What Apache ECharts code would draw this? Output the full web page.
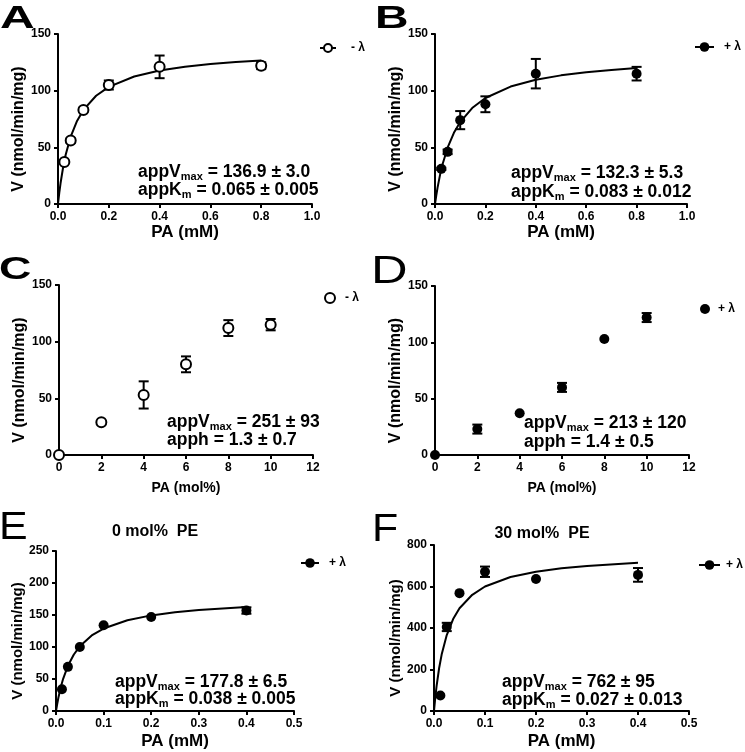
<!DOCTYPE html>
<html>
<head>
<meta charset="utf-8">
<script src="https://cdn.jsdelivr.net/npm/echarts@6/dist/echarts.min.js"></script>
<style>
  html, body { margin: 0; padding: 0; background: #fff; }
  #chart { width: 745px; height: 752px; }
</style>
</head>
<body>
<div id="chart"></div>
<script>
// --- data ---
// A: -lambda, PA in mM
const aX = [0.025, 0.05, 0.1, 0.2, 0.4, 0.8];
const aY = [37, 56, 83, 105, 121, 122];
const aErr = [1, 2, 2, 4, 10, 3];
// B: +lambda, PA in mM
const bX = [0.025, 0.05, 0.1, 0.2, 0.4, 0.8];
const bY = [31, 46, 74, 88, 115, 115];
const bErr = [1, 2, 8, 7, 13, 6];
// fitted curves for A and B
const mmFitX = [0, 0.005, 0.01, 0.02, 0.03, 0.05, 0.075, 0.1, 0.15, 0.2, 0.3, 0.4, 0.5, 0.6, 0.7, 0.8];
const aFitY = [0, 9.8, 18.3, 32.2, 43.2, 59.5, 73.3, 83.0, 95.5, 103.3, 112.5, 117.8, 121.2, 123.5, 125.3, 126.6];
const bFitY = [0, 7.5, 14.2, 25.7, 35.1, 49.7, 62.8, 72.3, 85.2, 93.5, 103.6, 109.6, 113.5, 116.2, 118.3, 119.9];
// C: -lambda, PA in mol%
const cX = [0, 2, 4, 6, 8, 10];
const cY = [0, 29, 53, 80, 112, 115];
const cErr = [0, 0, 12, 7, 7, 5];
// D: +lambda, PA in mol%
const dX = [0, 2, 4, 6, 8, 10];
const dY = [0, 23, 37, 60, 103, 122];
const dErr = [0, 4, 0, 4, 0, 4];
// E: 0 mol% PE
const eX = [0.0125, 0.025, 0.05, 0.1, 0.2, 0.4];
const eY = [34, 69, 100, 134, 147, 157];
const eErr = [0, 0, 0, 0, 0, 5];
// F: 30 mol% PE
const fX = [0.0125, 0.025, 0.05, 0.1, 0.2, 0.4];
const fY = [75, 405, 568, 671, 636, 656];
const fErr = [0, 20, 0, 25, 0, 33];
const peFitX = [0, 0.0025, 0.005, 0.01, 0.015, 0.025, 0.0375, 0.05, 0.075, 0.1, 0.15, 0.2, 0.25, 0.3, 0.4];
const eFitY = [0, 11.0, 20.7, 37.0, 50.3, 70.6, 88.3, 101.0, 118.0, 128.8, 141.9, 149.4, 154.3, 157.8, 162.4];
const fFitY = [0, 64.6, 119, 206, 272, 366, 443, 495, 560, 600, 646, 671, 688, 699, 714];

// tick labels
const mmTicks = [0, 0.2, 0.4, 0.6, 0.8, 1.0];
const molTicks = [0, 2, 4, 6, 8, 10, 12];
const peTicks = [0, 0.1, 0.2, 0.3, 0.4, 0.5];
const v150Ticks = [0, 50, 100, 150];
const v250Ticks = [0, 50, 100, 150, 200, 250];
const v800Ticks = [0, 200, 400, 600, 800];

// fit parameter labels
const fitText = [
  ['appV', 'max', ' = 136.9 ± 3.0', 'appK', 'm', ' = 0.065 ± 0.005'],
  ['appV', 'max', ' = 132.3 ± 5.3', 'appK', 'm', ' = 0.083 ± 0.012'],
  ['appV', 'max', ' = 251 ± 93', 'apph', '', ' = 1.3 ± 0.7'],
  ['appV', 'max', ' = 213 ± 120', 'apph', '', ' = 1.4 ± 0.5'],
  ['appV', 'max', ' = 177.8 ± 6.5', 'appK', 'm', ' = 0.038 ± 0.005'],
  ['appV', 'max', ' = 762 ± 95', 'appK', 'm', ' = 0.027 ± 0.013'],
];

const FONT = '"Liberation Sans", Arial, sans-serif';
const chart = echarts.init(document.getElementById('chart'), null, { renderer: 'canvas' });

const grids = [
  { left: 58, top: 34, width: 254, height: 170 },
  { left: 435, top: 34, width: 252, height: 170 },
  { left: 59, top: 285, width: 254, height: 170 },
  { left: 435, top: 286, width: 254, height: 169 },
  { left: 56, top: 551, width: 238, height: 160 },
  { left: 434, top: 545, width: 255, height: 166 },
];

function xAxisFor(i, ticks, name, nameSize, nameGap, dec) {
  return {
    gridIndex: i, type: 'value',
    min: ticks[0], max: ticks[ticks.length - 1], interval: ticks[1] - ticks[0],
    name: name, nameLocation: 'middle', nameGap: nameGap,
    nameTextStyle: { fontSize: nameSize, fontWeight: 'bold', color: '#000', fontFamily: FONT },
    axisLine: { onZero: false, lineStyle: { color: '#000', width: 2 } },
    axisTick: { show: true, length: 4, lineStyle: { color: '#000', width: 2 } },
    axisLabel: { color: '#000', fontSize: 12, fontWeight: 'bold', fontFamily: FONT, margin: 7,
      formatter: (v) => v.toFixed(dec) },
    splitLine: { show: false },
  };
}

function yAxisFor(i, ticks, nameSize) {
  return {
    gridIndex: i, type: 'value',
    min: ticks[0], max: ticks[ticks.length - 1], interval: ticks[1] - ticks[0],
    name: 'V (nmol/min/mg)', nameLocation: 'middle', nameGap: 30,
    nameTextStyle: { fontSize: nameSize, fontWeight: 'bold', color: '#000', fontFamily: FONT,
      padding: [0, 20, 0, 0] },
    axisLine: { show: true, lineStyle: { color: '#000', width: 2 } },
    axisTick: { show: true, length: 4, lineStyle: { color: '#000', width: 2 } },
    axisLabel: { color: '#000', fontSize: 12, fontWeight: 'bold', fontFamily: FONT, margin: 7 },
    splitLine: { show: false },
  };
}

function points(i, name, xs, ys, open) {
  return {
    name: name, type: 'scatter', xAxisIndex: i, yAxisIndex: i,
    data: xs.map((x, k) => [x, ys[k]]),
    symbol: open ? 'emptyCircle' : 'circle', symbolSize: 10,
    itemStyle: { color: '#000', borderColor: '#000', borderWidth: open ? 2.2 : 0, opacity: 1 },
    clip: false, z: 4, silent: true,
  };
}

function errorBars(i, xs, ys, errs) {
  return {
    type: 'custom', xAxisIndex: i, yAxisIndex: i,
    data: xs.map((x, k) => [x, ys[k], errs[k]]).filter((d) => d[2] > 0),
    renderItem: (params, api) => {
      const x = api.value(0), y = api.value(1), e = api.value(2);
      const hi = api.coord([x, y + e]);
      const lo = api.coord([x, y - e]);
      const w = 5;
      const st = { stroke: '#000', lineWidth: 2 };
      return {
        type: 'group',
        children: [
          { type: 'line', shape: { x1: hi[0], y1: hi[1], x2: lo[0], y2: lo[1] }, style: st },
          { type: 'line', shape: { x1: hi[0] - w, y1: hi[1], x2: hi[0] + w, y2: hi[1] }, style: st },
          { type: 'line', shape: { x1: lo[0] - w, y1: lo[1], x2: lo[0] + w, y2: lo[1] }, style: st },
        ],
      };
    },
    z: 3, silent: true,
  };
}

function fitLine(i, name, xs, ys, open) {
  return {
    name: name, type: 'line', xAxisIndex: i, yAxisIndex: i,
    data: xs.map((x, k) => [x, ys[k]]),
    showSymbol: false, symbol: open ? 'emptyCircle' : 'circle',
    smooth: false,
    lineStyle: { color: '#000', width: 2 },
    itemStyle: { color: '#000', opacity: 1 },
    z: 2, silent: true,
  };
}

function legendAt(left, top, w, h, name, label, gap) {
  return {
    left: left, top: top, padding: 0, itemWidth: w, itemHeight: h,
    selectedMode: false, data: [name],
    formatter: () => label,
    textStyle: { color: '#000', fontSize: 12, fontWeight: 'bold', fontFamily: FONT,
      padding: [0, 0, 0, gap] },
  };
}

function fitLabel(i, x, y1, y2) {
  const t = fitText[i];
  const rich = {
    m: { fontSize: 17.5, fontWeight: 'bold', fontFamily: FONT, fill: '#000' },
    s: { fontSize: 11, fontWeight: 'bold', fontFamily: FONT, fill: '#000', padding: [10, 0, 0, 0] },
  };
  const line = (a, b, c) => (b ? `{m|${a}}{s|${b}}{m|${c}}` : `{m|${a}${c}}`);
  return [
    { type: 'text', x: x, y: y1, style: { text: line(t[0], t[1], t[2]), rich: rich, verticalAlign: 'middle' } },
    { type: 'text', x: x, y: y2, style: { text: line(t[3], t[4], t[5]), rich: rich, verticalAlign: 'middle' } },
  ];
}

function panelLetter(ch, x, y, size, weight, sx) {
  return { type: 'text', x: x, y: y, scaleX: sx,
    style: { text: ch, fontSize: size, fontWeight: weight, fontFamily: FONT, fill: '#000', verticalAlign: 'middle' } };
}

function title(txt, x, y) {
  return { type: 'text', x: x, y: y,
    style: { text: txt, fontSize: 16, fontWeight: 'bold', fontFamily: FONT, fill: '#000',
      align: 'center', verticalAlign: 'middle' } };
}

const option = {
  backgroundColor: '#fff',
  animation: false,
  grid: grids,
  xAxis: [
    xAxisFor(0, mmTicks, 'PA (mM)', 17, 20, 1),
    xAxisFor(1, mmTicks, 'PA (mM)', 17, 20, 1),
    xAxisFor(2, molTicks, 'PA (mol%)', 14, 26, 0),
    xAxisFor(3, molTicks, 'PA (mol%)', 14, 26, 0),
    xAxisFor(4, peTicks, 'PA (mM)', 17, 22, 1),
    xAxisFor(5, peTicks, 'PA (mM)', 17, 22, 1),
  ],
  yAxis: [
    yAxisFor(0, v150Ticks, 16),
    yAxisFor(1, v150Ticks, 16),
    yAxisFor(2, v150Ticks, 16),
    yAxisFor(3, v150Ticks, 16),
    yAxisFor(4, v250Ticks, 15),
    yAxisFor(5, v800Ticks, 15),
  ],
  legend: [
    legendAt(319, 42, 16, 10, 'A fit', '- λ', 10),
    legendAt(694, 41, 19, 12, 'B fit', '+ λ', 5),
    legendAt(324, 292, 10, 10, 'C pts', '- λ', 5),
    legendAt(700, 303, 10, 10, 'D pts', '+ λ', 3),
    legendAt(300, 557, 18, 12, 'E fit', '+ λ', 5),
    legendAt(698, 559, 21, 12, 'F fit', '+ λ', 1),
  ],
  series: [
    fitLine(0, 'A fit', mmFitX, aFitY, true),
    errorBars(0, aX, aY, aErr),
    points(0, 'A pts', aX, aY, true),

    fitLine(1, 'B fit', mmFitX, bFitY, false),
    errorBars(1, bX, bY, bErr),
    points(1, 'B pts', bX, bY, false),

    errorBars(2, cX, cY, cErr),
    points(2, 'C pts', cX, cY, true),

    errorBars(3, dX, dY, dErr),
    points(3, 'D pts', dX, dY, false),

    fitLine(4, 'E fit', peFitX, eFitY, false),
    errorBars(4, eX, eY, eErr),
    points(4, 'E pts', eX, eY, false),

    fitLine(5, 'F fit', peFitX, fFitY, false),
    errorBars(5, fX, fY, fErr),
    points(5, 'F pts', fX, fY, false),
  ],
  graphic: [
    panelLetter('A', 0, 19, 32, 'bold', 1.5),
    panelLetter('B', 375, 19, 32, 'bold', 1.45),
    panelLetter('C', -1, 270, 32, 'bold', 1.4),
    panelLetter('D', 371, 272, 39, 'normal', 1.3),
    panelLetter('E', -1, 528, 39, 'normal', 1.1),
    panelLetter('F', 372, 530, 39, 'normal', 1.1),
    title('0 mol%  PE', 155, 532),
    title('30 mol%  PE', 542, 534),
    ...fitLabel(0, 138, 172, 190),
    ...fitLabel(1, 511, 173, 192),
    ...fitLabel(2, 167, 422, 440),
    ...fitLabel(3, 524, 423, 442),
    ...fitLabel(4, 115, 682, 699),
    ...fitLabel(5, 502, 682, 700),
  ],
};

chart.setOption(option);
window.addEventListener('resize', () => chart.resize());
</script>
</body>
</html>
